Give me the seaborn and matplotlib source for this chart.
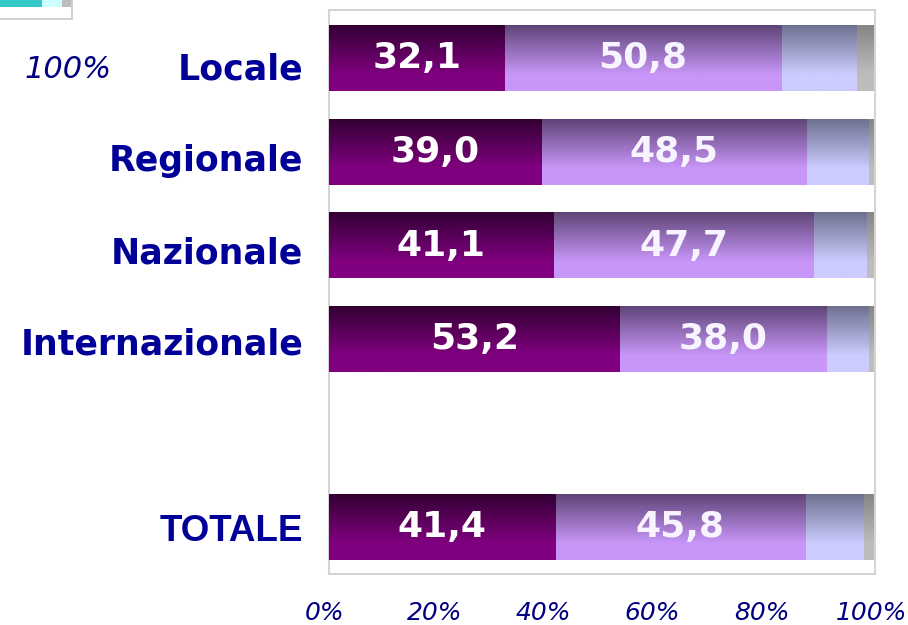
import numpy as np
import pandas as pd
import matplotlib.pyplot as plt
import seaborn as sns
from matplotlib.colors import to_rgb
from matplotlib.patches import Rectangle
from matplotlib.transforms import ScaledTranslation

categories = ["Locale", "Regionale", "Nazionale", "Internazionale", "TOTALE"]
seg1 = [32.1, 39.0, 41.1, 53.2, 41.4]
seg2 = [50.8, 48.5, 47.7, 38.0, 45.8]
seg3 = [13.7, 11.4, 9.6, 7.7, 10.7]
seg4 = [3.4, 1.1, 1.6, 1.1, 2.1]
x_ticks = [0, 20, 40, 60, 80, 100]
# blank slot between the single rows and the total
order = ["Locale", "Regionale", "Nazionale", "Internazionale", " ", "TOTALE"]

# top / bottom colour of the vertical gradient in every segment
grad_colors = [("#330033", "#800080"),
               ("#5f4577", "#c896f8"),
               ("#6e7090", "#ccccff"),
               ("#858585", "#bdbdbd")]

# the row labels sit a little below the bar centres (pixels)
label_drop = [12, 9, 8, 5, 4]


def gradient(top, bottom, n=120):
    t = np.clip(np.linspace(0, 1, n) / 0.75, 0, 1)[:, None]
    c0 = np.array(to_rgb(top))
    c1 = np.array(to_rgb(bottom))
    img = c0 + (c1 - c0) * t
    return img[:, None, :]


sns.set_style("white")
plt.rcParams["font.family"] = ["DejaVu Sans"]

fig = plt.figure(figsize=(9.08, 6.25), dpi=100)
ax = fig.add_axes([329 / 908, 1 - 574 / 625, 546 / 908, 564 / 625])

segs = [seg1, seg2, seg3, seg4]
cum = np.cumsum(segs, axis=0)

# stacked bars: draw cumulative totals from the largest down
for k, i in enumerate(reversed(range(4))):
    df = pd.DataFrame({"cat": categories, "val": cum[i]})
    n_before = len(ax.patches)
    sns.barplot(data=df, x="val", y="cat", order=order, orient="h",
                width=0.7, color=grad_colors[i][1], ax=ax)
    for p in ax.patches[n_before:]:
        x0, y0 = p.get_x(), p.get_y()
        w, h = p.get_width(), p.get_height()
        ax.imshow(gradient(*grad_colors[i]), extent=(x0, x0 + w, y0 + h, y0),
                  origin="upper", aspect="auto", interpolation="bilinear",
                  zorder=2 + k)
        p.set_facecolor("none")
        p.set_edgecolor("none")

# value labels inside the first two segments
for i, cat in enumerate(categories):
    pos = order.index(cat)
    ax.text(seg1[i] / 2, pos, f"{seg1[i]:.1f}".replace(".", ","),
            ha="center", va="center", color="white", fontsize=26,
            fontweight="bold", zorder=10)
    ax.text(seg1[i] + seg2[i] / 2, pos, f"{seg2[i]:.1f}".replace(".", ","),
            ha="center", va="center", color="#f8f4ff", fontsize=26,
            fontweight="bold", zorder=10)

ax.set_xlim(0, 100)
ax.set_ylim(5.5, -0.51)
ax.set_xlabel("")
ax.set_ylabel("")

# row labels (drawn as text so they can sit slightly below the bars)
ax.set_yticks([order.index(c) for c in categories])
ax.set_yticklabels([])
for cat, d in zip(categories, label_drop):
    tr = ax.get_yaxis_transform() + ScaledTranslation(-0.26, -d / 100, fig.dpi_scale_trans)
    kw = dict(fontsize=25, fontweight="bold")
    if cat == "TOTALE":
        kw = dict(fontsize=26.5, fontweight="bold", family="Liberation Sans")
    ax.text(0, order.index(cat), cat, transform=tr, ha="right", va="center",
            color="#000099", clip_on=False, **kw)

ax.set_xticks(x_ticks)
ax.set_xticklabels([])
for v in x_ticks:
    tr = ax.get_xaxis_transform() + ScaledTranslation(-0.04, -0.395, fig.dpi_scale_trans)
    ax.text(v, 0, f"{v}%", transform=tr, ha="center", va="center",
            fontsize=18, style="italic", color="#000080", clip_on=False)
ax.tick_params(length=0)

for s in ax.spines.values():
    s.set_color("#d4d4d4")
    s.set_linewidth(1.5)

fig.text(68 / 908, 1 - 69 / 625, "100%", style="italic", fontsize=22,
         color="#000080", ha="center", va="center")

# cut-off legend piece at the top left corner
W, H = 908, 625
fig.add_artist(Rectangle((0, 1 - 7 / H), 42 / W, 7 / H, transform=fig.transFigure,
                         color="#33c9c9", lw=0))
fig.add_artist(Rectangle((42 / W, 1 - 7 / H), 20 / W, 7 / H, transform=fig.transFigure,
                         color="#ccffff", lw=0))
fig.add_artist(Rectangle((62 / W, 1 - 7 / H), 10 / W, 7 / H, transform=fig.transFigure,
                         color="#bdbdbd", lw=0))
fig.add_artist(Rectangle((0, 1 - 20 / H), 72 / W, 2 / H, transform=fig.transFigure,
                         color="#d0d0d0", lw=0))
fig.add_artist(Rectangle((71 / W, 1 - 20 / H), 2 / W, 20 / H, transform=fig.transFigure,
                         color="#d0d0d0", lw=0))

fig.savefig("out.png", dpi=100)
